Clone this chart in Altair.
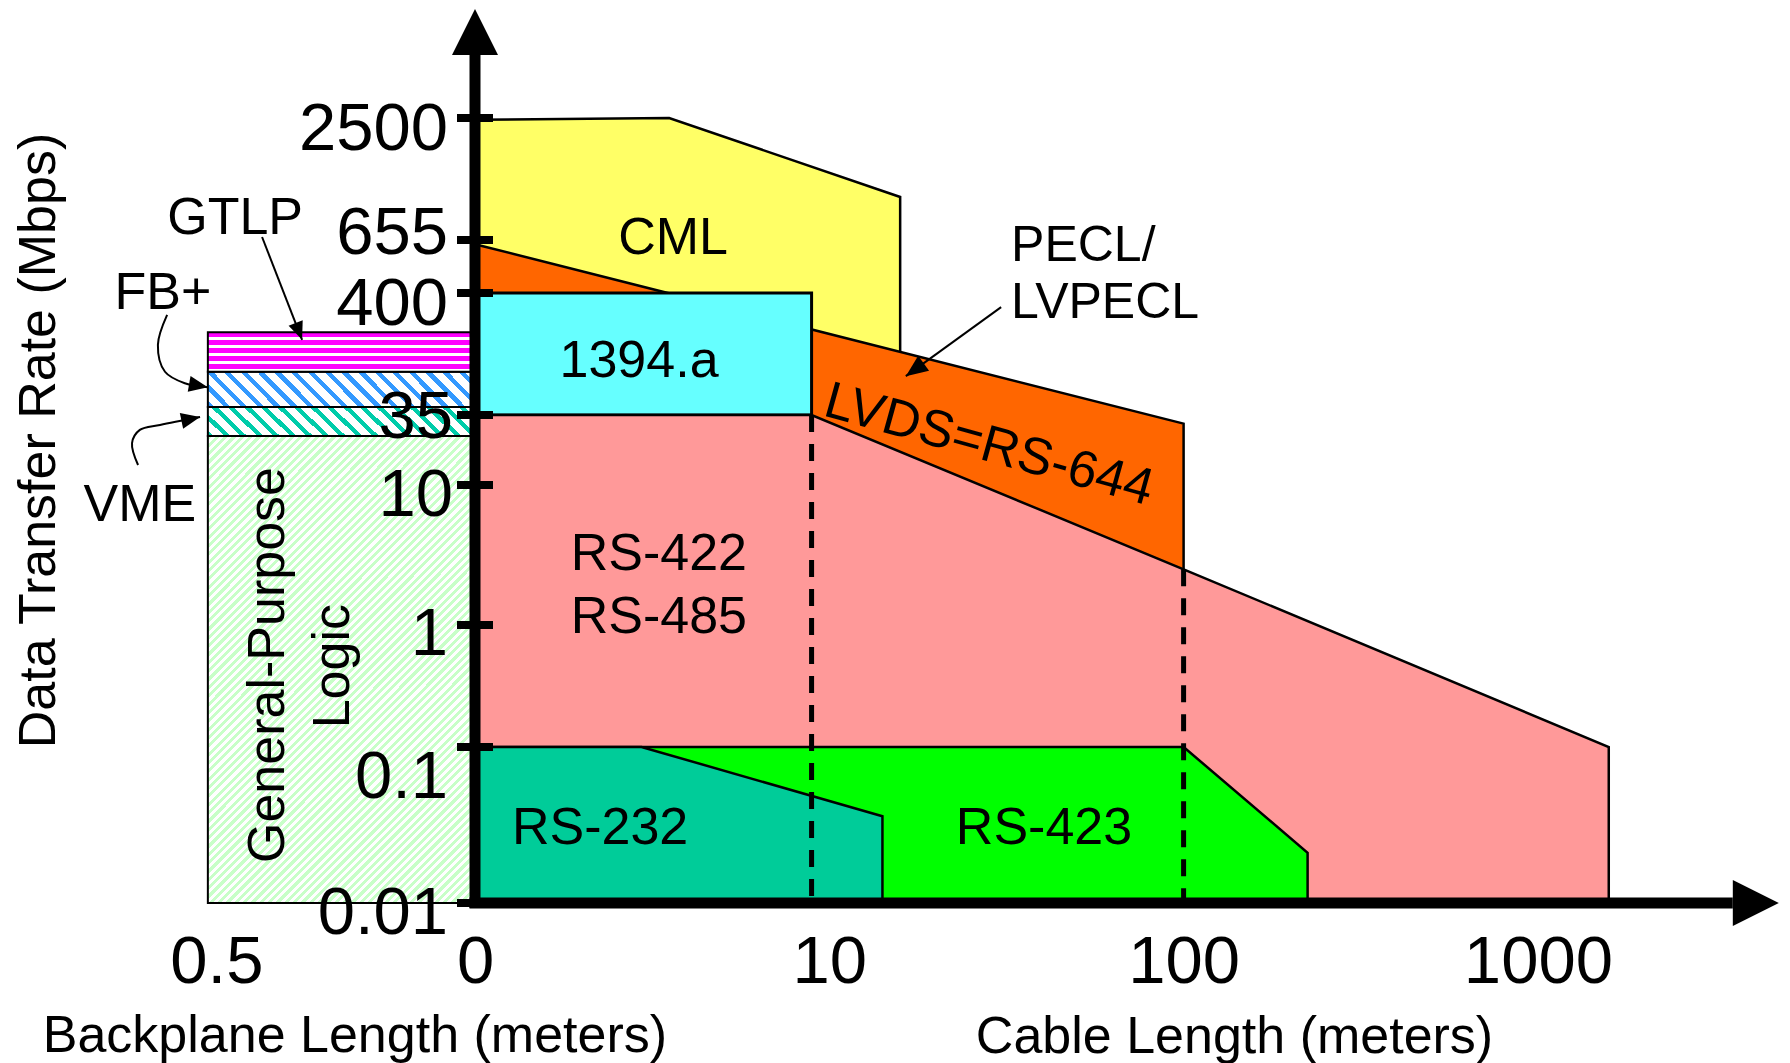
import altair as alt
import pandas as pd

# ---------------- data (x = decades of cable length, 0 = axis origin; rate in Mbps) ----------------
rate_ticks = [0.01, 0.1, 1, 10, 35, 400, 655, 2500]
rate_tick_labels = ["0.01", "0.1", "1", "10", "35", "400", "655", "2500"]
length_ticks = [-0.73, 0, 1, 2, 3]
length_tick_labels = ["0.5", "0", "10", "100", "1000"]

cml_u = [0.0, 0.548, 1.20]
cml_rate = [2450, 2500, 1050]
lvds_u = [0.0, 2.0]
lvds_rate = [630, 30]
fw_u = [0.0, 0.95]
fw_rate = [35, 400]
rs422_u = [0.0, 0.95, 2.0, 3.20]
rs422_rate = [35, 35, 2.5, 0.1]
rs423_u = [0.0, 2.0, 2.35]
rs423_rate = [0.1, 0.1, 0.021]
rs232_u = [0.0, 0.47, 1.15]
rs232_rate = [0.1, 0.1, 0.036]
floor_rate = 0.01

bp_u = [-0.754, 0.0]
bp_names = ["General-Purpose Logic", "VME", "FB+", "GTLP"]
bp_low = [0.01, 24, 41, 83]
bp_high = [24, 41, 83, 183]

dash_u = [0.95, 2.0]
dash_top = [35, 2.5]

axis_base_rate, axis_tip_rate = 5000, 8270
axis_base_u, axis_tip_u = 3.55, 3.68

# annotations (u, rate)
label_text = ["CML", "1394.a", "RS-422", "RS-485", "RS-232", "RS-423", "GTLP", "FB+", "VME"]
label_u = [0.559, 0.463, 0.519, 0.519, 0.353, 1.606, -0.677, -0.881, -0.946]
label_rate = [690, 109, 3.38, 1.2, 0.0316, 0.0316, 861, 411, 7.56]
pecl_text = ["PECL/", "LVPECL"]
pecl_u = [1.513, 1.513]
pecl_rate = [637, 348]
lvds_label = ("LVDS=RS-644", 1.451, 20.5)
gpl_text = ["General-Purpose", "Logic"]
gpl_u = [-0.584, -0.401]
gpl_rate = [0.47, 0.46]

gtlp_arrow_u = [-0.601, -0.488]
gtlp_arrow_rate = [677, 157]
fb_arrow_u = [-0.869, -0.895, -0.875, -0.819, -0.754]
fb_arrow_rate = [258, 142, 83, 66, 61]
vme_arrow_u = [-0.951, -0.968, -0.946, -0.889, -0.776]
vme_arrow_rate = [14.3, 21.2, 26.8, 29.3, 33.8]
pecl_arrow_u = [1.485, 1.216]
pecl_arrow_rate = [302, 76]

# ---------------- layout / style ----------------
FONT = "Liberation Sans"
DECADE_PX = 354.3
rate_tick_px = [895, 739, 617, 477, 407, 285, 232, 110]
tick_label_dy = [11, 31, 10, 11, 3, 12, -6, 12]
tick_label_dx = [0, 0, 0, 5, 5, 0, 0, 0]

XS = alt.Scale(domain=[-0.76, 3.68], range=[-0.76 * DECADE_PX, 3.68 * DECADE_PX], nice=False, zero=False)
YS = alt.Scale(type="log", domain=rate_ticks, range=rate_tick_px, nice=False)

expr = "''"
for v, l in reversed(list(zip(length_ticks, length_tick_labels))):
    expr = f"datum.value == {v} ? '{l}' : ({expr})"

x_axis = alt.Axis(values=length_ticks, labelExpr=expr, title="Cable Length (meters)",
                  titleX=759, titleY=133, titleAlign="center", titleBaseline="middle",
                  titleFont=FONT, titleFontSize=52, titleFontWeight="normal", titleColor="black",
                  labelFont=FONT, labelFontSize=67, labelColor="black", labelPadding=59,
                  labelBaseline="middle", labelFlush=False, labelOverlap=False,
                  ticks=False, tickSize=0, domain=False, grid=False, orient="bottom")
y_axis = alt.Axis(title="Data Transfer Rate (Mbps)", labels=False, ticks=False, domain=False, grid=False,
                  titleX=-437, titleY=432, titleAngle=270, titleAlign="center", titleBaseline="middle",
                  titleFont=FONT, titleFontSize=52, titleFontWeight="normal", titleColor="black", orient="left")


def X(f):
    return alt.X(f, type="quantitative", scale=XS, axis=x_axis)


def Y(f):
    return alt.Y(f, type="quantitative", scale=YS, axis=y_axis)


def region(us, rates, color):
    df = pd.DataFrame({"u": us, "rate": rates, "floor": [floor_rate] * len(us)})
    return alt.Chart(df).mark_area(color=color, stroke="black", strokeWidth=2.5, opacity=1).encode(
        x=X("u"), y=Y("rate"), y2=alt.Y2("floor"))


def hatch(color, period, frac, w, h, kind):
    if kind == "h":
        n = max(1, round(h / period))
        x1, y1, x2, y2 = 0, 0, 0, 1
    else:
        L = w + h
        a = L / (w * w + h * h)
        n = max(1, round(L / period))
        if kind == "/":
            x1, y1, x2, y2 = 0, 0, a * w, a * h
        else:
            x1, y1, x2, y2 = 0, 1, a * w, 1 - a * h
    stops = []
    for k in range(n):
        s, m, e = k / n, (k + frac) / n, (k + 1) / n
        stops += [{"offset": s, "color": color}, {"offset": m, "color": color},
                  {"offset": m, "color": "white"}, {"offset": e, "color": "white"}]
    return {"gradient": "linear", "x1": x1, "y1": y1, "x2": x2, "y2": y2, "stops": stops}


layers = []
layers.append(region(cml_u, cml_rate, "#FFFF66"))
layers.append(region(lvds_u, lvds_rate, "#FF6600"))
layers.append(alt.Chart(pd.DataFrame({"u0": [fw_u[0]], "u1": [fw_u[1]], "lo": [fw_rate[0]], "hi": [fw_rate[1]]}))
              .mark_rect(color="#66FFFF", stroke="black", strokeWidth=3, opacity=1)
              .encode(x=X("u0"), x2="u1", y=Y("lo"), y2="hi"))
layers.append(region(rs422_u, rs422_rate, "#FF9999"))
layers.append(region(rs423_u, rs423_rate, "#00FF00"))
layers.append(region(rs232_u, rs232_rate, "#00CC99"))

# backplane blocks (hatched)
bp_style = [("#C8FFC8", 8.3, 0.5, 267, 466, "/"),
            ("#00CCAA", 16.5, 0.38, 267, 30, "\\"),
            ("#3399FF", 16.5, 0.38, 267, 35, "\\"),
            ("#FF00FF", 8.0, 0.6, 267, 40, "h")]
for name, lo, hi, st in zip(bp_names, bp_low, bp_high, bp_style):
    df = pd.DataFrame({"u0": [bp_u[0]], "u1": [bp_u[1]], "lo": [lo], "hi": [hi], "name": [name]})
    layers.append(alt.Chart(df).mark_rect(fill=hatch(*st), stroke="black", strokeWidth=2, opacity=1)
                  .encode(x=X("u0"), x2="u1", y=Y("lo"), y2="hi"))

# dashed guides
layers.append(alt.Chart(pd.DataFrame({"u": dash_u, "top": dash_top, "floor": [0.0107] * 2}))
              .mark_rule(color="black", strokeWidth=5, strokeDash=[17, 12])
              .encode(x=X("u"), y=Y("top"), y2="floor"))

# axes lines + ticks
layers.append(alt.Chart(pd.DataFrame({"u": [0.0], "lo": [0.0093], "hi": [axis_base_rate]}))
              .mark_rule(color="black", strokeWidth=11).encode(x=X("u"), y=Y("lo"), y2="hi"))
layers.append(alt.Chart(pd.DataFrame({"u0": [-0.0155], "u1": [axis_base_u], "r": [floor_rate]}))
              .mark_rule(color="black", strokeWidth=11).encode(x=X("u0"), x2="u1", y=Y("r")))
layers.append(alt.Chart(pd.DataFrame({"u": [0.0] * len(rate_ticks), "rate": rate_ticks}))
              .mark_tick(orient="horizontal", size=36, thickness=8, color="black", opacity=1)
              .encode(x=X("u"), y=Y("rate")))

ARROW = "M0,0L0.5,1L-0.5,1Z"
HEAD = "M0,0L0.42,1L-0.42,1Z"
layers.append(alt.Chart(pd.DataFrame({"u": [0.0], "rate": [axis_tip_rate]}))
              .mark_point(shape=ARROW, filled=True, size=4 * 46 ** 2, angle=0, color="black", opacity=1, strokeWidth=0)
              .encode(x=X("u"), y=Y("rate")))
layers.append(alt.Chart(pd.DataFrame({"u": [axis_tip_u], "rate": [floor_rate]}))
              .mark_point(shape=ARROW, filled=True, size=4 * 46 ** 2, angle=90, color="black", opacity=1, strokeWidth=0)
              .encode(x=X("u"), y=Y("rate")))

# y tick labels
for v, lab, dy, dx in zip(rate_ticks, rate_tick_labels, tick_label_dy, tick_label_dx):
    layers.append(alt.Chart(pd.DataFrame({"u": [-0.076], "rate": [v], "t": [lab]}))
                  .mark_text(align="right", baseline="middle", dy=dy, dx=dx, font=FONT, fontSize=67, color="black")
                  .encode(x=X("u"), y=Y("rate"), text="t"))

# annotation arrows
for us, rs, ang, L, interp in [(gtlp_arrow_u, gtlp_arrow_rate, 159, 18, "linear"),
                               (fb_arrow_u, fb_arrow_rate, 100, 19, "catmull-rom"),
                               (vme_arrow_u, vme_arrow_rate, 78, 19, "catmull-rom"),
                               (pecl_arrow_u, pecl_arrow_rate, 234, 22, "linear")]:
    df = pd.DataFrame({"u": us, "rate": rs, "i": list(range(len(us)))})
    layers.append(alt.Chart(df).mark_line(color="black", strokeWidth=2, interpolate=interp)
                  .encode(x=X("u"), y=Y("rate"), order=alt.Order("i:Q")))
    layers.append(alt.Chart(df.tail(1)).mark_point(shape=HEAD, filled=True, size=4 * L ** 2, angle=ang,
                                                   color="black", opacity=1, strokeWidth=0)
                  .encode(x=X("u"), y=Y("rate")))

# labels
layers.append(alt.Chart(pd.DataFrame({"u": label_u, "rate": label_rate, "t": label_text}))
              .mark_text(align="center", baseline="middle", dy=3, font=FONT, fontSize=52, color="black")
              .encode(x=X("u"), y=Y("rate"), text="t"))
layers.append(alt.Chart(pd.DataFrame({"u": pecl_u, "rate": pecl_rate, "t": pecl_text}))
              .mark_text(align="left", baseline="middle", dy=3, font=FONT, fontSize=50, color="black")
              .encode(x=X("u"), y=Y("rate"), text="t"))
layers.append(alt.Chart(pd.DataFrame({"u": [lvds_label[1]], "rate": [lvds_label[2]], "t": [lvds_label[0]]}))
              .mark_text(align="center", baseline="middle", angle=15.5, font=FONT, fontSize=52, color="black")
              .encode(x=X("u"), y=Y("rate"), text="t"))
layers.append(alt.Chart(pd.DataFrame({"u": gpl_u, "rate": gpl_rate, "t": gpl_text}))
              .mark_text(align="center", baseline="middle", angle=270, font=FONT, fontSize=52, color="black")
              .encode(x=X("u"), y=Y("rate"), text="t"))
layers.append(alt.Chart(pd.DataFrame({"u": [-0.339], "t": ["Backplane Length (meters)"]}))
              .mark_text(align="center", baseline="middle", font=FONT, fontSize=52, color="black")
              .encode(x=X("u"), y=alt.value(1028), text="t"))

chart = alt.layer(*layers).properties(
    width=1300, height=895,
    padding={"left": 467, "top": 0, "right": 7, "bottom": 165},
    autosize=alt.AutoSizeParams(type="none"),
    background="white",
).configure_view(stroke=None)

chart.save("out.html", embed_options={"renderer": "svg", "actions": False})
